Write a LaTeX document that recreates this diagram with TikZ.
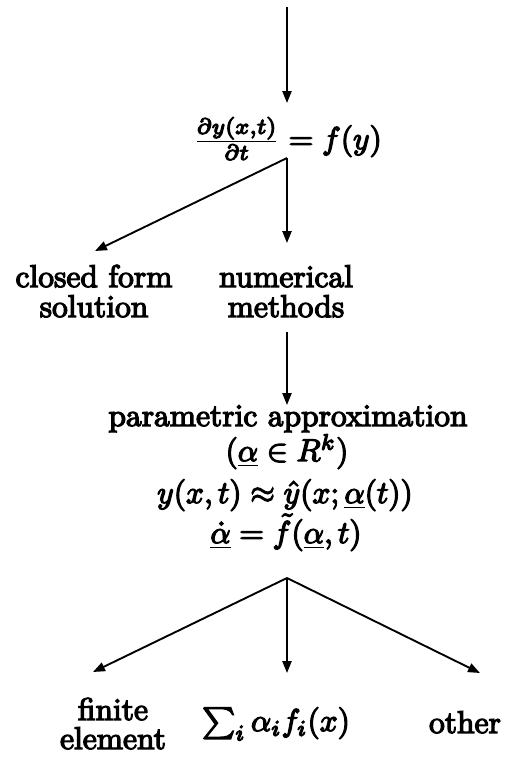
\documentclass[tikz,border=0pt]{standalone}
\usetikzlibrary{arrows.meta}
\begin{document}
\begin{tikzpicture}[x=0.3175pt,y=-0.3175pt,
  conn/.style={line width=0.6pt,-{Triangle[length=3.8pt,width=2.9pt]}},
  lbl/.style={anchor=base,inner sep=0pt,outer sep=0pt,font=\fontsize{10}{12}\selectfont,
    execute at begin node={\special{pdf:literal q 2 Tr 0.4 w}},
    execute at end node={\special{pdf:literal Q}}},
]
\useasboundingbox (0,0) rectangle (517,759);
% nodes
\node[lbl] (eq) at (287.5,149) {$\frac{\partial y(x,t)}{\partial t} = f(y)$};
\node[lbl] (cfa) at (94,287) {closed form};
\node[lbl] (cfb) at (94,317) {solution};
\node[lbl] (nma) at (286,287) {numerical};
\node[lbl] (nmb) at (286,317) {methods};
\node[lbl] (pa) at (288,426) {parametric approximation};
\node[lbl] (pb) at (287,461) {$(\underline{\alpha}\in R^k)$};
\node[lbl] (pc) at (285,503) {$y(x,t)\approx\hat{y}(x;\underline{\alpha}(t))$};
\node[lbl] (pd) at (286,543) {$\underline{\dot{\alpha}} = \tilde{f}(\underline{\alpha},t)$};
\node[lbl] (fea) at (113,720) {finite};
\node[lbl] (feb) at (113,749) {element};
\node[lbl] (sum) at (276,731) {$\sum_i \alpha_i f_i(x)$};
\node[lbl] (oth) at (465,733) {other};
% coordinates
\coordinate (top) at (287,7);
\coordinate (eqin) at (287,103);
\coordinate (b1) at (287,158);
\coordinate (cfin) at (95,251);
\coordinate (nmin) at (287,243);
\coordinate (nmout) at (287,332);
\coordinate (pin) at (287,405);
\coordinate (b2) at (287,578);
\coordinate (fein) at (93,672);
\coordinate (sumin) at (287,673);
\coordinate (othin) at (480,673);
% connectors
\draw[conn] (top) -- (eqin);
\draw[conn] (b1) -- (cfin);
\draw[conn] (b1) -- (nmin);
\draw[conn] (nmout) -- (pin);
\draw[conn] (b2) -- (fein);
\draw[conn] (b2) -- (sumin);
\draw[conn] (b2) -- (othin);
\end{tikzpicture}
\end{document}
